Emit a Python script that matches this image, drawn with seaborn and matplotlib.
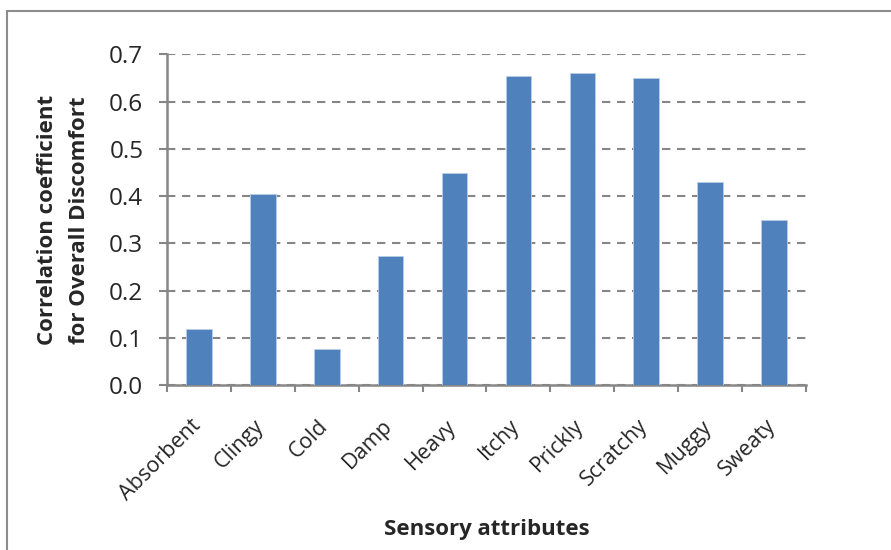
import matplotlib
matplotlib.use("Agg")
import matplotlib.pyplot as plt
import matplotlib.transforms as mtransforms
import seaborn as sns
import pandas as pd
from matplotlib.patches import Rectangle

attributes = ["Absorbent", "Clingy", "Cold", "Damp", "Heavy",
              "Itchy", "Prickly", "Scratchy", "Muggy", "Sweaty"]
correlation = [0.12, 0.405, 0.076, 0.273, 0.448,
               0.655, 0.66, 0.65, 0.429, 0.35]
y_ticks = [0.0, 0.1, 0.2, 0.3, 0.4, 0.5, 0.6, 0.7]

sns.set_theme(style="white")
plt.rcParams["font.family"] = ["Open Sans", "DejaVu Sans"]

df = pd.DataFrame({"attribute": attributes, "r": correlation})

fig = plt.figure(figsize=(8.91, 5.5), dpi=100)
ax = fig.add_axes([0.1874, 0.2995, 0.7172, 0.6018])

# outer chart-area frame
fig.patches.append(Rectangle((7 / 891, -0.05), 1.2, 1 - 11 / 550 + 0.05,
                             transform=fig.transFigure, fill=False,
                             edgecolor="#8c8c8c", linewidth=1.5, zorder=0))

axis_grey = "#868686"
sns.barplot(data=df, x="attribute", y="r", color="#4F81BD", saturation=1,
            width=0.4, edgecolor="#b9cde5", linewidth=0.6, ax=ax, zorder=3)

ax.set_xlim(-0.5, len(attributes) - 0.5)
ax.set_ylim(0, 0.7)
ax.set_yticks(y_ticks)
ax.set_yticklabels([f"{v:.1f}" for v in y_ticks], fontsize=17.5)
ax.yaxis.grid(True, linestyle=(0, (4, 3.2)), color=axis_grey, linewidth=1.5, zorder=0)
ax.set_axisbelow(True)

# category boundaries carry the tick marks
ax.set_xticks(range(len(attributes)))
ax.set_xticklabels(attributes, rotation=45, ha="right", rotation_mode="anchor",
                   fontsize=15.5)
ax.set_xticks([i - 0.5 for i in range(len(attributes) + 1)], minor=True)
ax.tick_params(axis="x", which="major", length=0, pad=16)
ax.tick_params(axis="x", which="minor", length=5, width=1.5, color=axis_grey,
               direction="out", bottom=True)
ax.tick_params(axis="y", which="major", length=6, width=1.5, color=axis_grey,
               direction="out", left=True, pad=11)

# nudge the slanted category names down and to the left
shift = mtransforms.ScaledTranslation(-9 / 100, -8 / 100, fig.dpi_scale_trans)
for lbl in ax.get_xticklabels():
    lbl.set_transform(lbl.get_transform() + shift)

for side in ["top", "right"]:
    ax.spines[side].set_visible(False)
for side in ["left", "bottom"]:
    ax.spines[side].set_color(axis_grey)
    ax.spines[side].set_linewidth(1.8)

ax.set_xlabel("Sensory attributes", fontsize=16, fontweight="bold", labelpad=10)
ax.set_ylabel("Correlation coefficient\nfor Overall Discomfort", fontsize=16,
              fontweight="bold", labelpad=14, linespacing=1.65)

fig.savefig("out.png", dpi=100, facecolor="white")
